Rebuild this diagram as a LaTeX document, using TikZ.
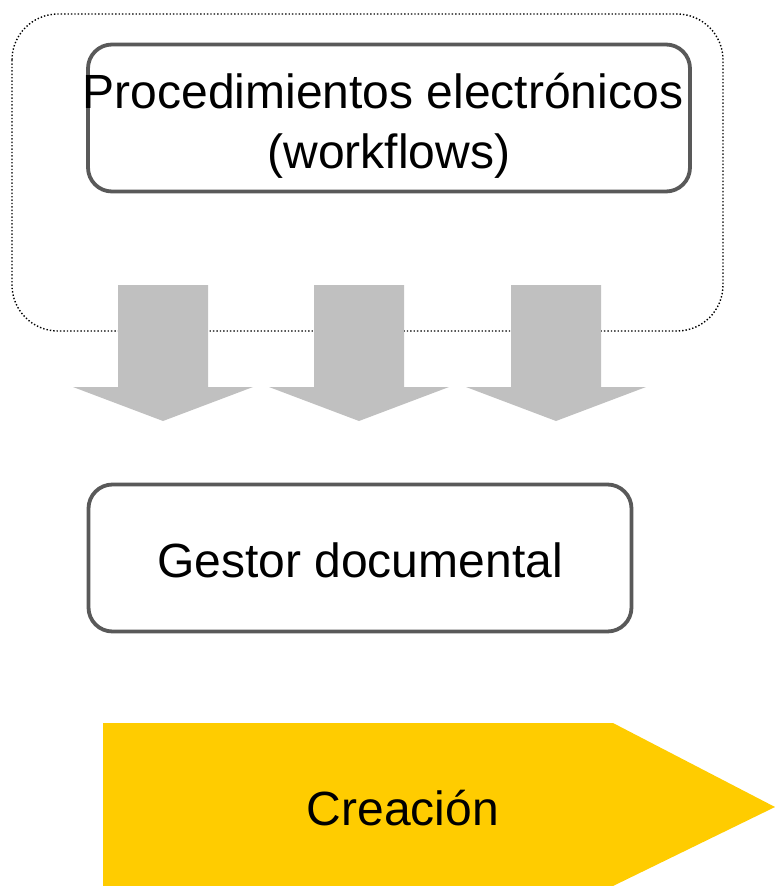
\documentclass[tikz,border=0pt]{standalone}
\usepackage{fontspec}
\setmainfont{Liberation Sans}
\definecolor{boxline}{HTML}{595959}
\definecolor{arrowgray}{HTML}{C0C0C0}
\definecolor{gold}{HTML}{FFCC00}
\begin{document}
\begin{tikzpicture}[x=1pt,y=-1pt,
  roundbox/.style={draw=boxline, line width=3.8pt, rounded corners=24pt, fill=white,
    inner sep=0pt},
  blockarrow/.style={fill=arrowgray},
  label/.style={font=\fontsize{48}{60}\selectfont, inner sep=0pt, align=center}]
\useasboundingbox (0,0) rectangle (775,886);
% dotted group frame
\draw[black, line width=1.4pt, dotted, rounded corners=46pt] (12,14) rectangle (723,331);
% top box
\node[roundbox, minimum width=602pt, minimum height=147pt] (proc) at (389,118) {};
\node[label] (proctext) at (389,126) {\hbox{Procedimientos electrónicos\kern12pt}\\(workflows)};
% block arrows
\foreach \i/\cx in {1/163,2/359,3/556}{
  \fill[blockarrow] (\cx-45,285) -- (\cx+45,285) -- (\cx+45,387) -- (\cx+90,387)
    -- (\cx,421) -- (\cx-90,387) -- (\cx-45,387) -- cycle;
}
% gestor box
\node[roundbox, minimum width=543pt, minimum height=147pt] (gestor) at (360,558) {};
\node[label] (gestortext) at (360,560) {Gestor documental};
% pentagon
\fill[gold] (103,723) -- (613,723) -- (775,807) -- (613,886) -- (103,886) -- cycle;
\node[label] (crea) at (403,808) {Creación};
\end{tikzpicture}
\end{document}
